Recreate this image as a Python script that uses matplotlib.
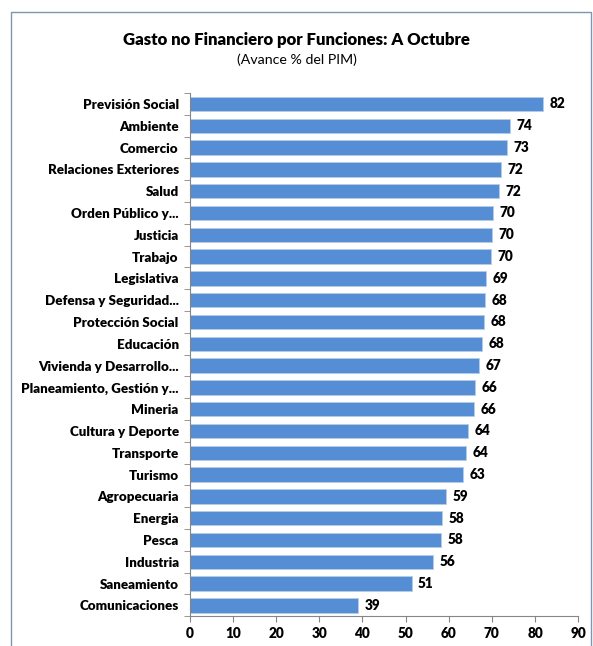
import matplotlib
matplotlib.use('Agg')
import matplotlib.pyplot as plt
from matplotlib.patches import Rectangle

# Avance % del PIM por funcion (lectura del grafico)
funciones = [
    'Previsión Social', 'Ambiente', 'Comercio', 'Relaciones Exteriores', 'Salud',
    'Orden Público y...', 'Justicia', 'Trabajo', 'Legislativa',
    'Defensa y Seguridad...', 'Protección Social', 'Educación',
    'Vivienda y Desarrollo...', 'Planeamiento, Gestión y...', 'Mineria',
    'Cultura y Deporte', 'Transporte', 'Turismo', 'Agropecuaria', 'Energia',
    'Pesca', 'Industria', 'Saneamiento', 'Comunicaciones',
]
avance = [81.9, 74.2, 73.4, 72.2, 71.7, 70.3, 70.1, 69.8, 68.7, 68.4, 68.2,
          67.7, 67.0, 66.1, 65.9, 64.4, 64.0, 63.4, 59.4, 58.4, 58.2, 56.3,
          51.4, 39.0]
etiquetas = [f'{v:.0f}' for v in avance]

plt.rcParams['font.family'] = ['Lato', 'DejaVu Sans']
W = 'heavy'

fig = plt.figure(figsize=(5.93, 6.46), dpi=100)
ax = fig.add_axes([0.320, 0.046, 0.655, 0.810])

y = list(range(len(funciones)))
bars = ax.barh(y, avance, height=0.66, color='#558ed5', edgecolor='#b8cce4', linewidth=0.6)
for b, t in zip(bars, etiquetas):
    ax.text(b.get_width() + 1.5, b.get_y() + b.get_height() / 2, t,
            va='center', ha='left', fontsize=9.8, fontweight=W)

ax.set_ylim(len(funciones) - 0.5, -0.5)
ax.set_xlim(0, 90)
ax.set_xticks(range(0, 91, 10))
ax.set_xticklabels([str(v) for v in range(0, 91, 10)], fontsize=9.8, fontweight=W)
ax.set_yticks(y)
ax.set_yticklabels(funciones, fontsize=9.6, fontweight=W)
ax.tick_params(axis='y', length=0, pad=8)
ax.set_yticks([i - 0.5 for i in range(len(funciones) + 1)], minor=True)
ax.tick_params(axis='y', which='minor', length=4, color='#868686')
ax.tick_params(axis='x', length=4, color='#868686', direction='out')

for s in ['top', 'right']:
    ax.spines[s].set_visible(False)
for s in ['left', 'bottom']:
    ax.spines[s].set_color('#868686')

fig.text(0.5, 0.938, 'Gasto no Financiero por Funciones: A Octubre',
         ha='center', va='center', fontsize=12.1, fontweight=W)
fig.text(0.5, 0.907, '(Avance % del PIM)', ha='center', va='center', fontsize=10.2)

fig.patches.append(Rectangle((11 / 593, -0.05), 580 / 593, 1.05 - 12 / 646,
                             transform=fig.transFigure, fill=False,
                             edgecolor='#7f96b2', linewidth=1.0))

fig.savefig('out.png', dpi=100)
